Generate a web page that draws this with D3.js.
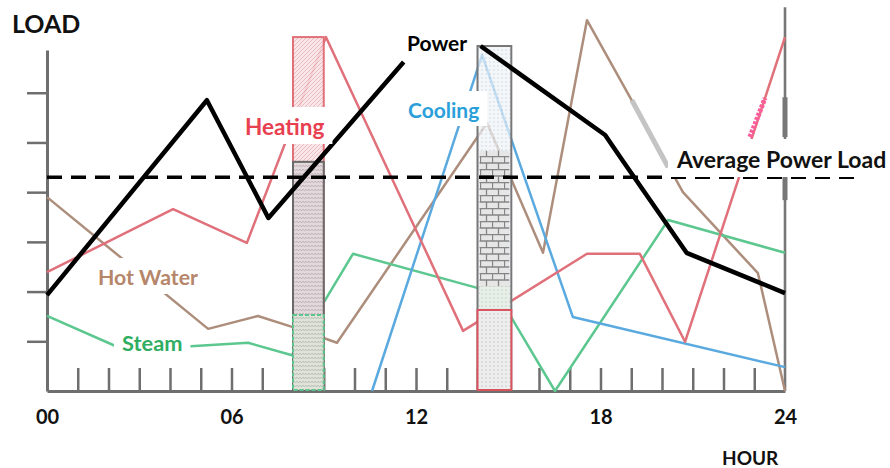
<!DOCTYPE html>
<html>
<head>
<meta charset="utf-8">
<script src="https://cdn.jsdelivr.net/npm/d3@7"></script>
<style>
  html, body { margin: 0; padding: 0; background: #fff; }
  svg { display: block; font-family: Lato, "Open Sans", sans-serif; font-weight: 700; }
</style>
</head>
<body>
<svg id="chart" width="890" height="468"></svg>
<script>
// --- data (hour of day, load units) ---
const powerHours = [0, 5.2, 7.2, 11.6, 12.9, 14.1, 18.15, 18.7, 20.8, 24];
const powerLoad  = [1.93, 5.85, 3.48, 6.62, null, 6.94, 5.15, 4.65, 2.78, 1.97];

const heatingHours = [0, 4.1, 6.5, 9.07, 13.53, 17.56, 19.28, 20.75, 24];
const heatingLoad  = [2.39, 3.66, 2.98, 7.12, 1.21, 2.76, 2.76, 0.99, 7.12];

const coolingHours = [10.57, 14.15, 17.1, 24];
const coolingLoad  = [0, 6.76, 1.49, 0.48];

const hotWaterHours = [0, 5.24, 6.86, 7.97, 9.43, 14.31, 16.13, 17.56, 20.68, 23.12, 24];
const hotWaterLoad  = [3.9, 1.25, 1.51, 1.29, 0.97, 5.39, 2.78, 7.46, 4.0, 2.37, 0];

const steamHours = [0, 2.54, 6.54, 7.97, 9.95, 14.02, 14.57, 16.52, 20.2, 24];
const steamLoad  = [1.51, 0.82, 0.97, 0.72, 2.76, 2.07, 2.03, 0, 3.44, 2.78];

const avgPowerLoad = 4.3;
const avgSpanHours = [0, 26.5];

// stacked bars at the two peak hours
const barHours = [[8, 9], [14, 15.1]];
const bar1Tops = [7.12, 4.61, 1.53];        // heating, power, steam
const bar2Tops = [6.94, 4.83, 2.11, 1.63];  // power/cooling, hot water, steam, heating

// stray marks on the drawing
const grayMarkHours = [19.02, 20.2];
const grayMarkLoad  = [5.85, 4.5];
const pinkMarkHours = [22.86, 23.35];
const pinkMarkLoad  = [5.11, 5.89];
const rightAxisTop = 7.72;
const rightThick = [[5.11, 5.91], [3.84, 4.31]];

const hourTicks = [1, 2, 3, 4, 5, 6, 7, 8, 9, 10, 11, 12, 13, 14, 15, 16, 17, 18, 19, 20, 21, 22, 23];
const hourLabelValues = [0, 6, 12, 18, 24];
const hourLabels = ['00', '06', '12', '18', '24'];
const loadTicks = [1, 2, 3, 4, 5, 6];

// --- scales ---
const svg = d3.select('#chart');
const x = d3.scaleLinear().domain([0, 24]).range([47, 785]);
const y = d3.scaleLinear().domain([0, 6.86]).range([391, 50]);
const zip = (hs, vs) => hs.map((h, i) => [h, vs[i]]);
const line = d3.line().defined(d => d[1] != null).x(d => x(d[0])).y(d => y(d[1]));

// --- patterns for the bars ---
const defs = svg.append('defs');
function pat(id, w, h, bg, draw) {
  const p = defs.append('pattern').attr('id', id)
    .attr('patternUnits', 'userSpaceOnUse').attr('width', w).attr('height', h);
  p.append('rect').attr('width', w).attr('height', h).attr('fill', bg);
  draw(p);
}
pat('hatchRed', 4, 4, '#f8e2e4', p => p.append('path')
  .attr('d', 'M0,4 L4,0 M-1,1 L1,-1 M3,5 L5,3').attr('stroke', '#e6aab1').attr('stroke-width', 0.9));
pat('zigGray', 6, 4, '#e2d9dc', p => p.append('path')
  .attr('d', 'M0,1 L1.5,3 L3,1 L4.5,3 L6,1').attr('fill', 'none').attr('stroke', '#b3a9ad').attr('stroke-width', 0.8));
pat('zigGreen', 6, 4, '#dfe4da', p => p.append('path')
  .attr('d', 'M0,1 L1.5,3 L3,1 L4.5,3 L6,1').attr('fill', 'none').attr('stroke', '#b0bcab').attr('stroke-width', 0.8));
pat('dotBlue', 4, 4, '#eef3f8', p => p.append('circle')
  .attr('cx', 2).attr('cy', 2).attr('r', 0.8).attr('fill', '#bcc8d4'));
pat('dotGreen', 4, 4, '#e8efe9', p => p.append('circle')
  .attr('cx', 2).attr('cy', 2).attr('r', 0.8).attr('fill', '#c0d2c3'));
pat('dotGray', 4, 4, '#eeeeee', p => p.append('circle')
  .attr('cx', 2).attr('cy', 2).attr('r', 0.8).attr('fill', '#c4c4c4'));
pat('brick', 12, 13, '#e6e6e6', p => p.append('path')
  .attr('d', 'M0,0.5 H12 M0,7 H12 M0.5,0 V7 M6.5,7 V13').attr('stroke', '#858585').attr('stroke-width', 1.3));

// --- axes ---
const axisColor = '#6e6e6e';
const xAxis = svg.append('g').attr('transform', `translate(0,${y(0)})`)
  .call(d3.axisBottom(x).tickValues(hourTicks).tickSize(-23).tickSizeOuter(0).tickFormat(''));
xAxis.select('.domain').attr('stroke', axisColor).attr('stroke-width', 3);
xAxis.selectAll('.tick line').attr('stroke', axisColor).attr('stroke-width', 2.5);

const yAxis = svg.append('g').attr('transform', `translate(${x(0)},0)`)
  .call(d3.axisLeft(y).tickValues(loadTicks).tickSize(20).tickSizeOuter(0).tickFormat(''));
yAxis.select('.domain').attr('stroke', axisColor).attr('stroke-width', 3);
yAxis.selectAll('.tick line').attr('stroke', axisColor).attr('stroke-width', 2.5);

svg.append('line')
  .attr('x1', x(24)).attr('x2', x(24)).attr('y1', y(0)).attr('y2', y(rightAxisTop))
  .attr('stroke', '#777').attr('stroke-width', 2.6);
svg.selectAll('.rthick').data(rightThick).enter().append('line')
  .attr('x1', x(24)).attr('x2', x(24)).attr('y1', d => y(d[0])).attr('y2', d => y(d[1]))
  .attr('stroke', '#777').attr('stroke-width', 5);

const hourLab = svg.append('g').attr('transform', `translate(0,${y(0)})`)
  .call(d3.axisBottom(x).tickValues(hourLabelValues).tickSize(0).tickFormat((d, i) => hourLabels[i]));
hourLab.select('.domain').remove();
hourLab.selectAll('text').attr('y', 33).attr('dy', 0)
  .attr('font-family', 'Lato, sans-serif').attr('font-weight', 700)
  .attr('font-size', 20).attr('fill', '#111');

// --- thin series lines ---
const thin = [
  { pts: zip(hotWaterHours, hotWaterLoad), color: '#ad8e7c' },
  { pts: zip(steamHours, steamLoad), color: '#5cc78f' },
  { pts: zip(coolingHours, coolingLoad), color: '#5aa9df' },
  { pts: zip(heatingHours, heatingLoad), color: '#e0707a' }
];
svg.append('g').selectAll('path').data(thin).enter().append('path')
  .attr('d', d => line(d.pts)).attr('fill', 'none')
  .attr('stroke', d => d.color).attr('stroke-width', 2.5).attr('stroke-linejoin', 'round');

svg.append('path').attr('d', line(zip(grayMarkHours, grayMarkLoad)))
  .attr('stroke', '#c4c4c4').attr('stroke-width', 5).attr('fill', 'none');
svg.append('path').attr('d', line(zip(pinkMarkHours, pinkMarkLoad)))
  .attr('stroke', '#ff5c9c').attr('stroke-width', 5).attr('stroke-dasharray', '3 1.5').attr('fill', 'none');

// --- stacked bars ---
const bar1Style = [
  { fill: 'url(#hatchRed)', stroke: '#e07079', dash: null, op: 0.85 },
  { fill: 'url(#zigGray)', stroke: '#6a6a6a', dash: null, op: 0.9 },
  { fill: 'url(#zigGreen)', stroke: '#5cc48c', dash: '4 2', op: 0.9 }
];
const bar2Style = [
  { fill: 'url(#dotBlue)', stroke: '#777', dash: null, op: 0.7 },
  { fill: 'url(#brick)', stroke: 'none', dash: null, op: 1 },
  { fill: 'url(#dotGreen)', stroke: 'none', dash: null, op: 1 },
  { fill: 'url(#dotGray)', stroke: '#d9535f', dash: null, op: 1 }
];
function drawBar(span, tops, styles) {
  const x0 = x(span[0]), x1 = x(span[1]);
  svg.append('g').selectAll('rect').data(tops).enter().append('rect')
    .attr('x', (d, i) => styles[i].stroke === 'none' ? x0 + 2 : x0)
    .attr('width', (d, i) => styles[i].stroke === 'none' ? x1 - x0 - 4 : x1 - x0)
    .attr('y', d => y(d))
    .attr('height', d => y(0) - y(d) - 1)
    .attr('fill', (d, i) => styles[i].fill).attr('fill-opacity', (d, i) => styles[i].op)
    .attr('stroke', (d, i) => styles[i].stroke).attr('stroke-width', 2)
    .attr('stroke-dasharray', (d, i) => styles[i].dash);
}
drawBar(barHours[0], bar1Tops, bar1Style);
drawBar(barHours[1], bar2Tops, bar2Style);

// --- power line and average ---
svg.append('path').attr('d', line(zip(powerHours, powerLoad)))
  .attr('fill', 'none').attr('stroke', '#000').attr('stroke-width', 4.5).attr('stroke-linejoin', 'round');
svg.append('line')
  .attr('x1', x(avgSpanHours[0])).attr('x2', x(avgSpanHours[1]))
  .attr('y1', y(avgPowerLoad)).attr('y2', y(avgPowerLoad))
  .attr('stroke', '#000').attr('stroke-width', 3.5).attr('stroke-dasharray', '15 9');

// --- labels with white backing ---
const labels = [
  { t: 'Power', x: 407, y: 51, c: '#000', s: 21 },
  { t: 'Heating', x: 245, y: 135, c: '#e8404f', s: 22.5 },
  { t: 'Cooling', x: 408, y: 118, c: '#2a9fda', s: 21 },
  { t: 'Hot Water', x: 98, y: 285, c: '#b5866a', s: 21.3 },
  { t: 'Steam', x: 122, y: 351, c: '#2fae62', s: 21.8 },
  { t: 'Average Power Load', x: 677, y: 168, c: '#111', s: 23 }
];
labels.forEach(l => {
  const g = svg.append('g');
  const txt = g.append('text').attr('x', l.x).attr('y', l.y)
    .attr('font-size', l.s).attr('fill', l.c).text(l.t);
  const b = txt.node().getBBox();
  g.insert('rect', 'text').attr('x', b.x - 8).attr('y', b.y - 6)
    .attr('width', b.width + 16).attr('height', b.height + 10).attr('fill', '#fff');
});

svg.append('text').attr('x', 12).attr('y', 33).attr('font-size', 25).attr('fill', '#111').text('LOAD');
svg.append('text').attr('x', 722).attr('y', 465).attr('font-size', 19).attr('fill', '#111').text('HOUR');
</script>
</body>
</html>
